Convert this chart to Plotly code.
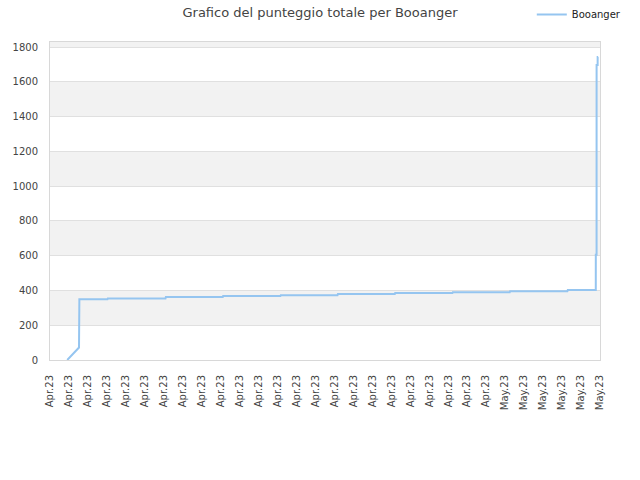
import plotly.graph_objects as go
import pandas as pd

# Data
timestamps = [
    "2023-04-07 21:50", "2023-04-08 12:43", "2023-04-08 13:10",
    "2023-04-10 00:43", "2023-04-10 01:12",
    "2023-04-13 02:10", "2023-04-13 02:38",
    "2023-04-16 02:38", "2023-04-16 03:07",
    "2023-04-19 03:36", "2023-04-19 04:05",
    "2023-04-22 03:50", "2023-04-22 04:19",
    "2023-04-25 04:19", "2023-04-25 04:48",
    "2023-04-28 05:17", "2023-04-28 05:46",
    "2023-05-01 05:46", "2023-05-01 06:14",
    "2023-05-04 06:43", "2023-05-04 07:12",
    "2023-05-05 18:40", "2023-05-05 18:42",
    "2023-05-05 19:40", "2023-05-05 19:42",
    "2023-05-05 21:00", "2023-05-05 21:02",
    "2023-05-05 21:40",
]
scores = [
    0, 72, 349,
    349, 354,
    354, 362,
    362, 368,
    368, 373,
    373, 379,
    379, 385,
    385, 390,
    390, 396,
    396, 402,
    402, 606,
    606, 1697,
    1697, 1743,
    1743,
]
series_name = "Booanger"
title_text = "Grafico del punteggio totale per Booanger"
x_start = "2023-04-07"
x_end = "2023-05-06"
y_max = 1829
y_step = 200

fig = go.Figure()
fig.add_trace(go.Scatter(
    x=pd.to_datetime(timestamps), y=scores, mode="lines", name=series_name,
    line=dict(color="#95c5f0", width=2), showlegend=True,
))

# alternating background bands
shapes = []
lvl = y_step
while lvl < y_max:
    shapes.append(dict(type="rect", xref="paper", yref="y", x0=0, x1=1,
                       y0=lvl, y1=min(lvl + y_step, y_max),
                       fillcolor="#f2f2f2", line=dict(width=0), layer="below"))
    lvl += 2 * y_step

fig.update_layout(
    width=640, height=480,
    margin=dict(l=50, r=40, t=40, b=120),
    paper_bgcolor="white", plot_bgcolor="white",
    font=dict(family="DejaVu Sans", size=10, color="#444444"),
    title=dict(text=title_text, x=0.5, xanchor="center", y=1 - 12 / 480, yanchor="middle",
               font=dict(family="DejaVu Sans", size=13, color="#444444")),
    showlegend=True,
    legend=dict(x=0.876, y=1.0, xref="paper", yref="container", xanchor="left", yanchor="top",
                font=dict(size=10, color="#222222"), bgcolor="rgba(0,0,0,0)",
                itemwidth=30),
    shapes=shapes,
    xaxis=dict(type="date", range=[x_start, x_end], tickformat="%b.%y",
               dtick=86400000, tick0=x_start, tickangle=-90, showgrid=False,
               showline=True, linecolor="#d8d8d8", linewidth=1, mirror=True,
               ticks="", ticklabelstandoff=10, zeroline=False,
               tickfont=dict(size=10, color="#444444")),
    yaxis=dict(range=[0, y_max], dtick=y_step, tick0=0, showgrid=True,
               gridcolor="#e0e0e0", gridwidth=1, showline=True, linecolor="#d8d8d8",
               linewidth=1, mirror=True, ticks="", ticklabelstandoff=9, zeroline=False,
               tickfont=dict(size=10, color="#444444")),
)

fig.write_html("out.html", config={"displayModeBar": False},
               post_script="document.body.style.margin='0px';")
